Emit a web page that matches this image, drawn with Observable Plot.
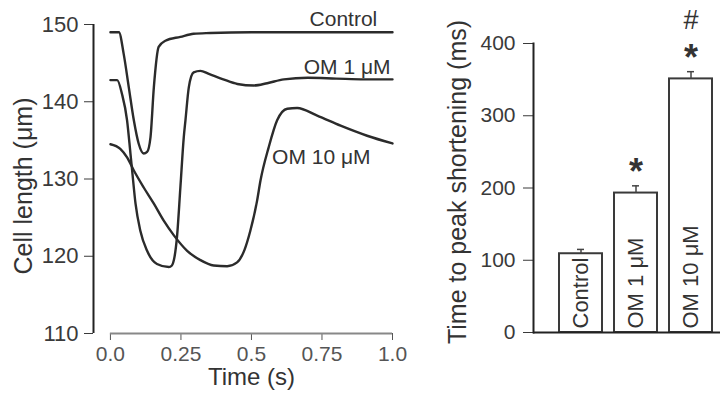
<!DOCTYPE html>
<html><head><meta charset="utf-8">
<script src="https://cdn.jsdelivr.net/npm/d3@7"></script>
<script src="https://cdn.jsdelivr.net/npm/@observablehq/plot@0.6"></script>
<style>
html,body{margin:0;padding:0;background:#fff;}
#wrap{display:flex;width:723px;height:407px;overflow:hidden;background:#fff;}
#wrap svg{display:block;flex:none;}
</style></head><body><div id="wrap"></div>
<script>
// ---- Left panel: cell length traces (time in s, length in µm)
const tControl = [0, 0.03, 0.047, 0.065, 0.083, 0.1, 0.118, 0.13, 0.142, 0.154, 0.171, 0.195, 0.248, 0.295, 0.355, 0.5, 0.75, 1.0];
const vControl = [149.0, 149.0, 146.2, 141.9, 137.6, 134.6, 133.3, 133.5, 135.4, 141.9, 147.1, 147.9, 148.4, 148.8, 148.9, 149.0, 149.0, 149.0];

const tOM1 = [0, 0.024, 0.041, 0.059, 0.071, 0.077, 0.089, 0.106, 0.13, 0.165, 0.207, 0.218, 0.225, 0.236, 0.248, 0.26, 0.266, 0.278, 0.295, 0.319, 0.349, 0.4, 0.45, 0.509, 0.556, 0.615, 0.7, 0.8, 0.9, 1.0];
const vOM1 = [142.8, 142.8, 141.0, 137.6, 133.3, 131.1, 126.8, 123.3, 120.7, 119.0, 118.6, 118.8, 119.5, 122.5, 128.9, 135.4, 137.6, 141.9, 143.8, 144.0, 143.6, 142.9, 142.3, 142.1, 142.4, 142.9, 143.1, 143.0, 142.9, 142.9];

const tOM10 = [0, 0.035, 0.059, 0.083, 0.118, 0.154, 0.189, 0.225, 0.272, 0.319, 0.366, 0.414, 0.449, 0.475, 0.496, 0.52, 0.532, 0.561, 0.591, 0.627, 0.662, 0.733, 0.816, 0.91, 1.0];
const vOM10 = [134.5, 133.9, 132.8, 131.1, 128.9, 126.8, 124.6, 122.7, 120.7, 119.5, 118.8, 118.7, 119.2, 120.8, 123.3, 127.2, 129.8, 134.1, 137.6, 139.1, 139.2, 138.2, 136.9, 135.6, 134.6];

const seriesNames = ["Control", "OM 1 μM", "OM 10 μM"];
const xTicks = [0, 0.25, 0.5, 0.75, 1.0];
const xTickLabels = ["0.0", "0.25", "0.5", "0.75", "1.0"];
const yTicksLeft = [110, 120, 130, 140, 150];

// trace label anchors (data coordinates)
const labelT = [0.946, 0.993, 0.573];
const labelV = [150.7, 144.4, 132.8];

// ---- Right panel: time to peak shortening (ms)
const categories = ["Control", "OM 1 μM", "OM 10 μM"];
const tpsValues = [109, 193, 351];
const tpsErrors = [6, 10, 10];
const sigStar = ["", "*", "*"];
const sigHash = ["", "", "#"];
const yTicksRight = [0, 100, 200, 300, 400];

// ---- build tables
const traces = [
  ...tControl.map((t, i) => ({series: seriesNames[0], t, v: vControl[i]})),
  ...tOM1.map((t, i) => ({series: seriesNames[1], t, v: vOM1[i]})),
  ...tOM10.map((t, i) => ({series: seriesNames[2], t, v: vOM10[i]}))
];
const traceLabels = seriesNames.map((s, i) => ({s, t: labelT[i], v: labelV[i]}));
const bars = categories.map((cat, i) => ({cat, value: tpsValues[i], err: tpsErrors[i], star: sigStar[i], hash: sigHash[i]}));

const font = "'Liberation Sans', Arial, Helvetica, sans-serif";
const ink = "#2b2b2b";
const xDomainLeft = [-0.06, 1.0];

const left = Plot.plot({
  width: 420, height: 407,
  marginLeft: 93, marginRight: 28, marginTop: 24, marginBottom: 74,
  style: {fontFamily: font, fontSize: "21px", color: "#333", background: "#fff", overflow: "visible"},
  x: {domain: xDomainLeft},
  y: {domain: [yTicksLeft[0], yTicksLeft[yTicksLeft.length - 1]]},
  marks: [
    Plot.axisY({ticks: yTicksLeft, tickSize: 9, tickPadding: 6, label: null, fontSize: 22, color: "#3a3a3a"}),
    Plot.axisX({ticks: xTicks, tickFormat: d => xTickLabels[xTicks.indexOf(d)], tickSize: 7, tickPadding: 6, label: null, fontSize: 21, color: "#555"}),
    Plot.ruleX([xDomainLeft[0]], {stroke: "#222", strokeWidth: 2}),
    Plot.ruleY([yTicksLeft[0]], {x1: xTicks[0], x2: xTicks[xTicks.length - 1], stroke: "#888", strokeWidth: 2}),
    Plot.line(traces, {x: "t", y: "v", z: "series", stroke: ink, strokeWidth: 2.4, curve: "monotone-x"}),
    Plot.text(traceLabels.filter(d => d.s !== seriesNames[2]), {x: "t", y: "v", text: "s", textAnchor: "end", fontSize: 21, fill: "#333"}),
    Plot.text(traceLabels.filter(d => d.s === seriesNames[2]), {x: "t", y: "v", text: "s", textAnchor: "start", fontSize: 21, fill: "#333"}),
    Plot.text(["Cell length (μm)"], {frameAnchor: "left", textAnchor: "middle", lineAnchor: "middle", rotate: -90, dx: -70, dy: 7, fontSize: 25, fill: "#333"}),
    Plot.text([{label: "Time (s)", x: (xTicks[0] + xTicks[xTicks.length - 1]) / 2}], {x: "x", text: "label", frameAnchor: "bottom", textAnchor: "middle", lineAnchor: "middle", dy: 44, fontSize: 24, fill: "#333"})
  ]
});

const right = Plot.plot({
  width: 303, height: 407,
  marginLeft: 113, marginRight: 3, marginTop: 43, marginBottom: 75,
  style: {fontFamily: font, fontSize: "21px", color: "#333", background: "#fff", overflow: "visible"},
  x: {domain: categories, paddingInner: 0.22, paddingOuter: 0.28, align: 0.76, axis: null},
  y: {domain: [yTicksRight[0], yTicksRight[yTicksRight.length - 1]]},
  marks: [
    Plot.axisY({ticks: yTicksRight, tickSize: 10, tickPadding: 8, label: null, fontSize: 21, color: "#3a3a3a"}),
    Plot.frame({anchor: "left", stroke: "#222", strokeWidth: 2}),
    Plot.barY(bars, {x: "cat", y: "value", fill: "#fff", stroke: "#3a3a3a", strokeWidth: 2}),
    Plot.ruleX(bars, {x: "cat", y1: "value", y2: d => d.value + d.err, stroke: "#444", strokeWidth: 1.5}),
    Plot.tickY(bars, {x: "cat", y: d => d.value + d.err, insetLeft: 18, insetRight: 18, stroke: "#444", strokeWidth: 1.5}),
    Plot.ruleY([0], {stroke: "#222", strokeWidth: 2}),
    Plot.text(bars, {x: "cat", y: 0, text: "cat", rotate: -90, textAnchor: "start", dy: -4, fontSize: 22, fill: "#333"}),
    Plot.text(bars, {x: "cat", y: d => d.value + d.err, text: "star", dy: -13, fontSize: 36, fontWeight: "bold", fill: "#333"}),
    Plot.text(bars, {x: "cat", y: d => d.value + d.err, text: "hash", dy: -51, fontSize: 27, fill: "#333"}),
    Plot.text(["Time to peak shortening (ms)"], {frameAnchor: "left", textAnchor: "middle", lineAnchor: "middle", rotate: -90, dx: -76, dy: -6, fontSize: 25, fill: "#333"})
  ]
});

document.getElementById("wrap").append(left, right);
</script>
</body></html>
